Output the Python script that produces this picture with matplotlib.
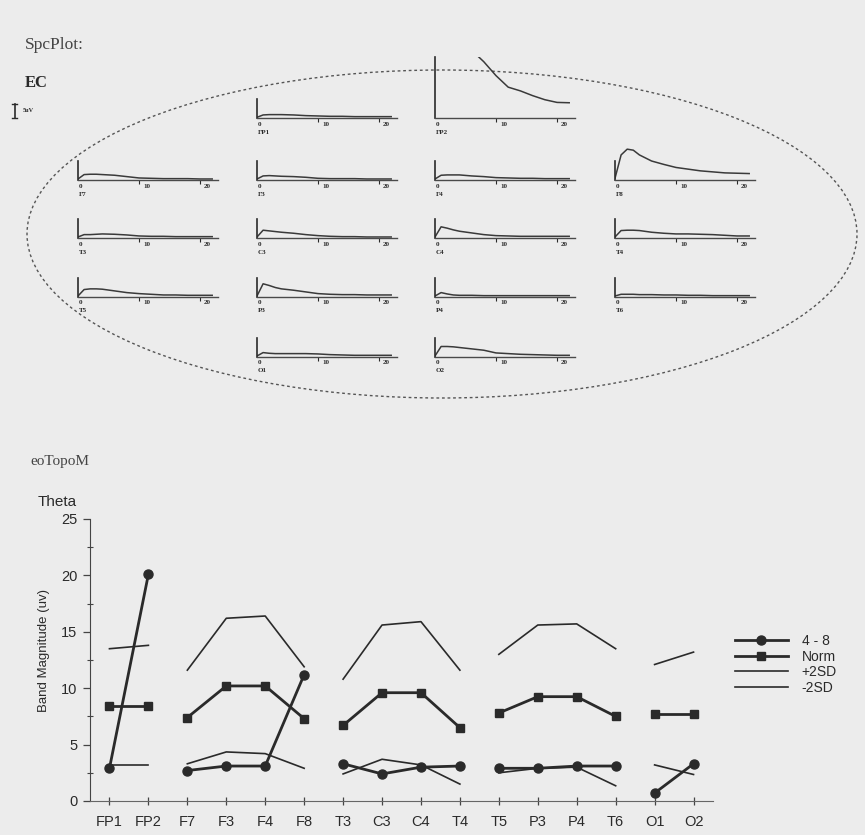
import numpy as np
import matplotlib
matplotlib.use("Agg")
import matplotlib.pyplot as plt
from matplotlib.patches import Ellipse

# ---- eoTopoM: theta band magnitude per electrode ----
electrodes = ["FP1", "FP2", "F7", "F3", "F4", "F8", "T3", "C3", "C4", "T4",
              "T5", "P3", "P4", "T6", "O1", "O2"]
theta_4_8 = [2.9, 20.1, 2.7, 3.1, 3.1, 11.2, 3.3, 2.4, 3.0, 3.1,
             2.9, 2.9, 3.1, 3.1, 0.7, 3.3]
norm = [8.4, 8.4, 7.4, 10.2, 10.2, 7.3, 6.7, 9.6, 9.6, 6.5,
        7.8, 9.25, 9.25, 7.5, 7.7, 7.7]
plus_2sd = [13.5, 13.8, 11.6, 16.2, 16.4, 11.9, 10.8, 15.6, 15.9, 11.6,
            13.0, 15.6, 15.7, 13.5, 12.1, 13.2]
minus_2sd = [3.2, 3.2, 3.3, 4.35, 4.2, 2.9, 2.4, 3.7, 3.2, 1.5,
             2.5, 2.9, 3.0, 1.35, 3.2, 2.35]
groups = [["FP1", "FP2"], ["F7", "F3", "F4", "F8"], ["T3", "C3", "C4", "T4"],
          ["T5", "P3", "P4", "T6"], ["O1", "O2"]]

# ---- SpcPlot: EC spectra (uV) per electrode ----
spec_freq = [0, 1, 2, 3, 4, 6, 8, 10, 12, 14, 16, 18, 20, 22]
spec_FP1 = [0.2, 0.9, 1.0, 1.0, 1.0, 0.9, 0.7, 0.6, 0.5, 0.5, 0.4, 0.4, 0.4, 0.4]
spec_FP2 = [30, 30, 30, 30, 28, 20, 16.6, 12.5, 9.1, 8.0, 6.6, 5.4, 4.6, 4.5]
spec_F7 = [0.3, 1.6, 1.7, 1.7, 1.6, 1.4, 1.0, 0.6, 0.5, 0.4, 0.4, 0.4, 0.3, 0.3]
spec_F3 = [0.3, 1.2, 1.3, 1.2, 1.1, 1.0, 0.8, 0.5, 0.4, 0.4, 0.4, 0.3, 0.3, 0.3]
spec_F4 = [0.3, 1.4, 1.5, 1.5, 1.5, 1.2, 1.0, 0.7, 0.6, 0.5, 0.5, 0.4, 0.4, 0.4]
spec_F8 = [0.5, 7.4, 9.1, 8.8, 7.4, 5.6, 4.6, 3.7, 3.2, 2.7, 2.4, 2.1, 2.0, 1.9]
spec_T3 = [0.3, 1.0, 1.0, 1.1, 1.2, 1.1, 0.9, 0.6, 0.5, 0.5, 0.4, 0.4, 0.4, 0.4]
spec_C3 = [0.3, 2.3, 2.1, 1.9, 1.7, 1.4, 1.0, 0.7, 0.5, 0.4, 0.4, 0.3, 0.3, 0.3]
spec_C4 = [0.3, 3.3, 2.9, 2.4, 2.0, 1.5, 1.0, 0.7, 0.6, 0.5, 0.5, 0.5, 0.5, 0.5]
spec_T4 = [0.3, 2.2, 2.3, 2.3, 2.2, 1.7, 1.4, 1.2, 1.2, 1.1, 1.0, 0.8, 0.6, 0.6]
spec_T5 = [0.3, 2.2, 2.4, 2.4, 2.3, 1.8, 1.3, 1.0, 0.8, 0.6, 0.6, 0.5, 0.5, 0.5]
spec_P3 = [0.3, 3.9, 3.4, 2.8, 2.4, 2.0, 1.5, 1.0, 0.8, 0.7, 0.7, 0.6, 0.6, 0.6]
spec_P4 = [0.3, 1.3, 0.9, 0.6, 0.5, 0.5, 0.4, 0.4, 0.4, 0.4, 0.4, 0.4, 0.4, 0.4]
spec_T6 = [0.3, 0.8, 0.8, 0.8, 0.7, 0.7, 0.6, 0.6, 0.5, 0.5, 0.4, 0.4, 0.4, 0.4]
spec_O1 = [0.3, 1.3, 1.1, 1.0, 1.0, 1.0, 1.0, 0.9, 0.7, 0.6, 0.5, 0.5, 0.5, 0.5]
spec_O2 = [0.3, 3.1, 3.1, 3.0, 2.8, 2.4, 2.0, 1.2, 1.0, 0.8, 0.7, 0.6, 0.5, 0.5]

spectra = {"FP1": spec_FP1, "FP2": spec_FP2, "F7": spec_F7, "F3": spec_F3,
           "F4": spec_F4, "F8": spec_F8, "T3": spec_T3, "C3": spec_C3,
           "C4": spec_C4, "T4": spec_T4, "T5": spec_T5, "P3": spec_P3,
           "P4": spec_P4, "T6": spec_T6, "O1": spec_O1, "O2": spec_O2}

# where each little spectrum sits on the page (x of 0 Hz, baseline y), pixels
col_x = [78, 257, 435, 615]
row_y = [118, 180, 238, 297, 357]
spec_layout = {"FP1": (1, 0), "FP2": (2, 0),
               "F7": (0, 1), "F3": (1, 1), "F4": (2, 1), "F8": (3, 1),
               "T3": (0, 2), "C3": (1, 2), "C4": (2, 2), "T4": (3, 2),
               "T5": (0, 3), "P3": (1, 3), "P4": (2, 3), "T6": (3, 3),
               "O1": (1, 4), "O2": (2, 4)}

W, H = 865, 835
paper = "#ececec"
ink = "#2a2a2a"
sans = ["Liberation Sans", "DejaVu Sans"]
serif = ["Liberation Serif", "DejaVu Serif"]

fig = plt.figure(figsize=(W / 100, H / 100), dpi=100, facecolor=paper)


def px_rect(x0, top, w, h):
    return [x0 / W, 1 - (top + h) / H, w / W, h / H]


# page-level layer in pixel coordinates
bg = fig.add_axes([0, 0, 1, 1])
bg.set_xlim(0, W)
bg.set_ylim(H, 0)
bg.axis("off")
bg.set_zorder(-1)

bg.text(25, 45, "SpcPlot:", family=serif, fontsize=12.5, color="#444", va="center")
bg.text(25, 83, "EC", family=serif, fontsize=12, weight="bold", color=ink, va="center")
bg.plot([14.5, 14.5], [104, 118], color=ink, lw=1.2)
bg.plot([12, 17], [104, 104], color=ink, lw=1.0)
bg.plot([12, 17], [118, 118], color=ink, lw=1.0)
bg.text(23, 110, "5uV", family=serif, fontsize=4.5, weight="bold", color=ink, va="center")
bg.add_patch(Ellipse((442, 234), 830, 328, fill=False, ec="#555",
                     lw=1.0, ls=(0, (2, 2))))
bg.text(30, 461, "eoTopoM", family=serif, fontsize=11, color="#444", va="center")
bg.text(38, 502, "Theta", family=sans, fontsize=11, color=ink, va="center")

# ---- mini spectra ----
hz_px = 6.1
for ch, (ci, ri) in spec_layout.items():
    x0, base = col_x[ci], row_y[ri]
    a = fig.add_axes(px_rect(x0, base - 61, 23.5 * hz_px, 61))
    a.patch.set_alpha(0)
    a.plot(spec_freq, spectra[ch], color="#3a3a3a", lw=1.1)
    a.set_xlim(0, 23.5)
    a.set_ylim(0, 18)
    for s in ["top", "right"]:
        a.spines[s].set_visible(False)
    a.spines["left"].set_bounds(0, 18 if ch == "FP2" else 5.5)
    a.spines["bottom"].set_bounds(0, 23)
    a.spines["left"].set_linewidth(1.2)
    a.spines["bottom"].set_linewidth(1.0)
    a.spines["left"].set_color(ink)
    a.spines["bottom"].set_color("#4a4a4a")
    a.set_xticks([10, 20])
    a.set_yticks([])
    a.tick_params(axis="x", direction="out", length=3, width=0.8,
                  color=ink, labelbottom=False)
    bg.text(x0 + 1, base + 6, "0", family=serif, fontsize=5, weight="bold",
            color=ink, va="center")
    bg.text(x0 + 10 * hz_px + 4, base + 6, "10", family=serif, fontsize=5,
            weight="bold", color=ink, va="center")
    bg.text(x0 + 20 * hz_px + 4, base + 6, "20", family=serif, fontsize=5,
            weight="bold", color=ink, va="center")
    bg.text(x0 + 1, base + 14, ch, family=serif, fontsize=5, weight="bold",
            color=ink, va="center")

# ---- theta chart ----
ax = fig.add_axes(px_rect(90, 519, 623, 282))
ax.patch.set_alpha(0)
xpos = {e: i for i, e in enumerate(electrodes)}
series = [
    (theta_4_8, "4 - 8", dict(lw=2.0, marker="o", ms=6.5)),
    (norm, "Norm", dict(lw=2.0, marker="s", ms=5.5)),
    (plus_2sd, "+2SD", dict(lw=1.2)),
    (minus_2sd, "-2SD", dict(lw=1.2)),
]
for vals, lab, kw in series:
    for gi, g in enumerate(groups):
        xs = [xpos[e] for e in g]
        ys = [vals[xpos[e]] for e in g]
        ax.plot(xs, ys, color=ink, label=lab if gi == 0 else None, **kw)

ax.set_xlim(-0.5, 15.5)
ax.set_ylim(0, 25)
ax.set_xticks(range(len(electrodes)))
ax.set_xticklabels(electrodes)
ax.set_yticks(np.arange(0, 26, 5))
ax.set_yticks(np.arange(2.5, 25, 5), minor=True)
for s in ["top", "right"]:
    ax.spines[s].set_visible(False)
ax.spines["left"].set_color("#444")
ax.spines["bottom"].set_color("#666")
ax.spines["bottom"].set_linewidth(0.8)
ax.tick_params(axis="x", direction="inout", length=6, width=0.9, colors="#444",
               labelsize=10.5, pad=7)
ax.tick_params(axis="y", which="major", direction="out", length=5, width=0.9,
               colors="#444", labelsize=10.5, pad=4)
ax.tick_params(axis="y", which="minor", direction="inout", length=4, width=0.8,
               colors="#444")
for t in ax.get_xticklabels() + ax.get_yticklabels():
    t.set_family(sans)
    t.set_color(ink)
bg.text(44, 650, "Band Magnitude (uv)", family=sans, fontsize=9.5, color=ink,
        rotation=90, ha="center", va="center")

leg = ax.legend(loc="upper left", bbox_to_anchor=(735 / W, 1 - 634 / H),
                bbox_transform=fig.transFigure, frameon=False, borderpad=0,
                borderaxespad=0, handlelength=3.8, handletextpad=1.0,
                labelspacing=0.12, prop={"family": sans, "size": 10})
for t in leg.get_texts():
    t.set_color(ink)

fig.savefig("out.png", dpi=100, facecolor=paper)
